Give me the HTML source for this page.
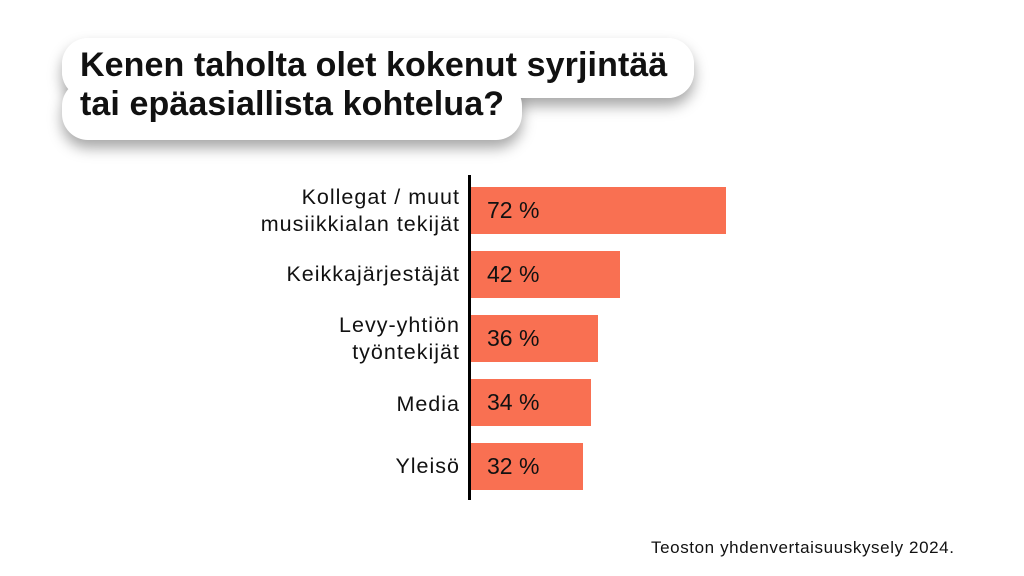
<!DOCTYPE html>
<html><head><meta charset="utf-8"><style>
body{margin:0;width:1024px;height:576px;background:#fff;position:relative;overflow:hidden;font-family:"Liberation Sans",sans-serif;}
.blob{position:absolute;background:#fff;border-radius:26px;box-shadow:0 8px 14px rgba(0,0,0,.35);}
.t{position:absolute;left:80px;font-weight:bold;font-size:34px;color:#111;white-space:nowrap;letter-spacing:0.1px}
.bar{position:absolute;left:471px;height:47px;background:#f97052}
.v{position:absolute;left:487px;font-size:23px;color:#111;line-height:47px}
.l{position:absolute;right:564px;text-align:right;font-size:21.5px;letter-spacing:1px;color:#111;line-height:27px;white-space:nowrap}
</style></head><body>
<div class="blob" style="left:62px;top:38px;width:632px;height:60px"></div>
<div class="blob" style="left:62px;top:80px;width:460px;height:60px"></div>
<div class="blob" style="left:62px;top:38px;width:632px;height:60px;box-shadow:none"></div>
<div class="t" style="top:46px">Kenen taholta olet kokenut syrjintää</div>
<div class="t" style="top:85px">tai epäasiallista kohtelua?</div>
<div style="position:absolute;left:468px;top:175px;width:3px;height:325px;background:#000"></div>
<div class="bar" style="top:187px;width:255px"></div><div class="v" style="top:187px">72 %</div>
<div class="bar" style="top:251px;width:149px"></div><div class="v" style="top:251px">42 %</div>
<div class="bar" style="top:315px;width:127px"></div><div class="v" style="top:315px">36 %</div>
<div class="bar" style="top:379px;width:120px"></div><div class="v" style="top:379px">34 %</div>
<div class="bar" style="top:443px;width:112px"></div><div class="v" style="top:443px">32 %</div>
<div class="l" style="top:184px">Kollegat / muut<br>musiikkialan tekijät</div>
<div class="l" style="top:261px">Keikkajärjestäjät</div>
<div class="l" style="top:312px">Levy-yhtiön<br>työntekijät</div>
<div class="l" style="top:391px">Media</div>
<div class="l" style="top:453px">Yleisö</div>
<div style="position:absolute;left:651px;top:538px;font-size:17px;letter-spacing:0.6px;color:#111">Teoston yhdenvertaisuuskysely 2024.</div>
</body></html>
